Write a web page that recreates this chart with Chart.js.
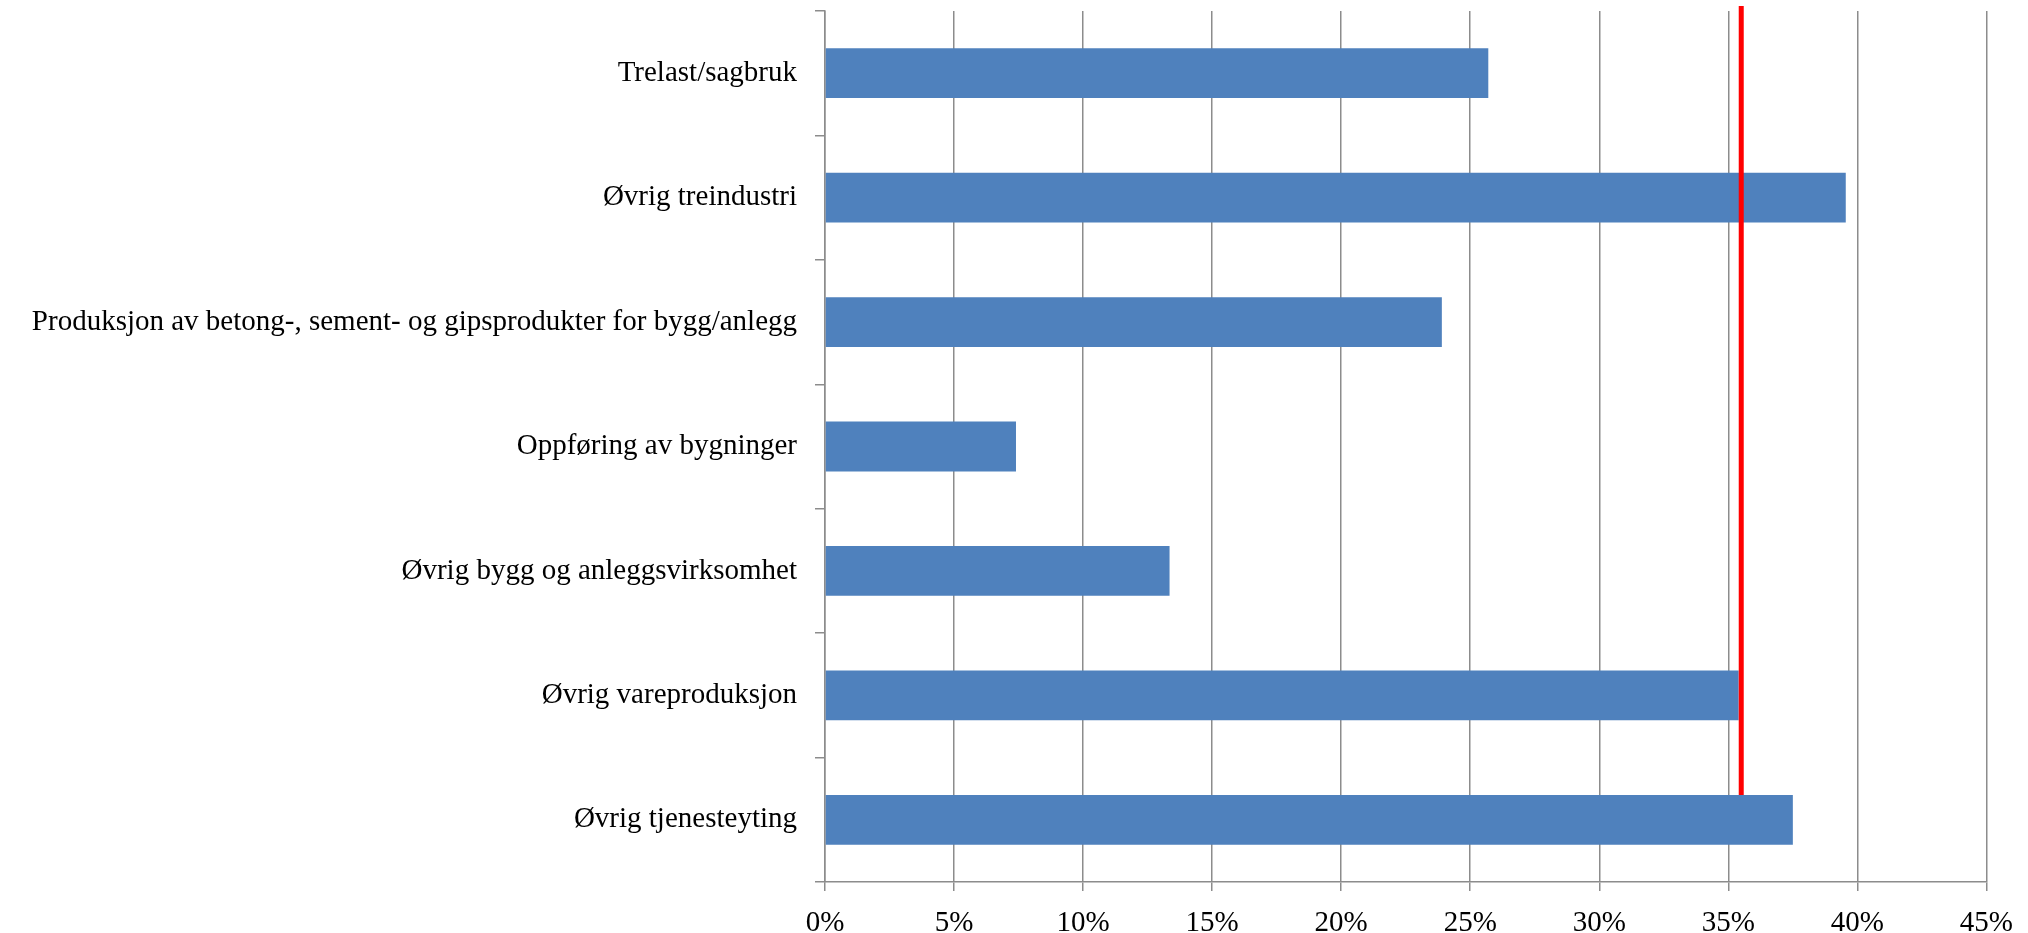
<!DOCTYPE html>
<html>
<head>
<meta charset="utf-8">
<script src="https://cdn.jsdelivr.net/npm/chart.js@4/dist/chart.umd.min.js"></script>
<style>
  body { margin: 0; background: #fff; }
  #wrap { width: 2028px; height: 933px; }
</style>
</head>
<body>
<div id="wrap"><canvas id="bar-chart" width="2028" height="933"></canvas></div>
<script>
// Kategorier og verdier (prosent)
const kategorier = [
    'Trelast/sagbruk',
    'Øvrig treindustri',
    'Produksjon av betong-, sement- og gipsprodukter for bygg/anlegg',
    'Oppføring av bygninger',
    'Øvrig bygg og anleggsvirksomhet',
    'Øvrig vareproduksjon',
    'Øvrig tjenesteyting'
];
const andeler = [25.7, 39.55, 23.9, 7.4, 13.35, 35.4, 37.5];

// Rød referanselinje (snitt) - x-verdi og utstrekning i kategori-indeks
const snitt = 35.5;
const snittFra = -0.54;
const snittTil = 5.8;

// Akse
const xMin = 0;
const xMax = 45;
const xSteg = 5;

const font = { family: "'Liberation Serif', 'Times New Roman', serif", size: 29 };
const gra = '#8c8c8c';

const ctx = document.getElementById('bar-chart').getContext('2d');
new Chart(ctx, {
    type: 'bar',
    data: {
        labels: kategorier,
        datasets: [{
            label: 'Andel',
            data: andeler,
            backgroundColor: '#4F81BD',
            xAxisID: 'x',
            yAxisID: 'y',
            grouped: false,
            categoryPercentage: 1,
            barPercentage: 0.4,
            order: 2
        }, {
            type: 'line',
            label: 'Snitt',
            data: [{ x: snitt, y: snittFra }, { x: snitt, y: snittTil }],
            borderColor: '#FF0000',
            borderWidth: 5,
            pointRadius: 0,
            xAxisID: 'x',
            yAxisID: 'y2',
            clip: false,
            order: 1
        }]
    },
    options: {
        indexAxis: 'y',
        responsive: false,
        animation: false,
        layout: { padding: { top: 11, right: 40, bottom: 0, left: 0 } },
        plugins: {
            legend: { display: false },
            tooltip: { enabled: false }
        },
        scales: {
            x: {
                type: 'linear',
                min: xMin,
                max: xMax,
                ticks: {
                    stepSize: xSteg,
                    color: '#000',
                    font: font,
                    padding: 15,
                    callback: v => v + '%'
                },
                grid: { color: gra, lineWidth: 1.5, tickLength: 9 },
                border: { color: gra, width: 1.5 },
                afterFit: s => { s.height = 51; }
            },
            y: {
                type: 'category',
                ticks: { color: '#000', font: font, padding: 18 },
                grid: { drawOnChartArea: false, color: gra, lineWidth: 1.5, tickLength: 10 },
                border: { color: gra, width: 1.5 },
                afterFit: s => { s.width = 825; s.paddingTop = 0; s.paddingBottom = 0; }
            },
            // skjult akse for den røde linja, samme inndeling som kategoriene
            y2: {
                type: 'linear',
                display: false,
                offset: false,
                min: -0.5,
                max: 6.5,
                reverse: true
            }
        }
    }
});
</script>
</body>
</html>
